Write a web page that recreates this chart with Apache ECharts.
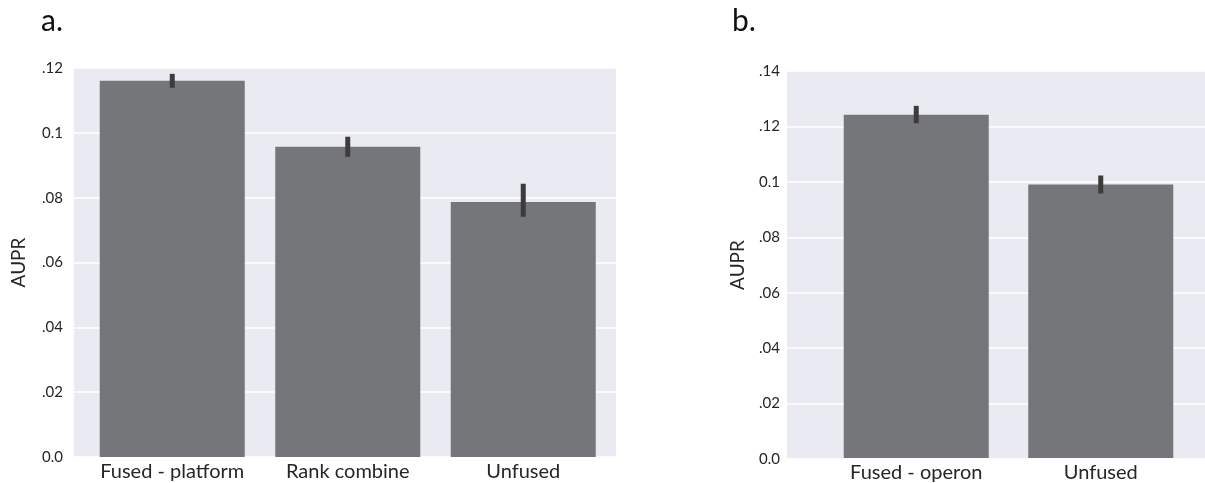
<!DOCTYPE html>
<html>
<head>
<meta charset="utf-8">
<script src="https://cdn.jsdelivr.net/npm/echarts@6/dist/echarts.min.js"></script>
<style>
html,body{margin:0;padding:0;background:#fff;}
#c{width:1205px;height:483px;}
</style>
</head>
<body>
<div id="c"></div>
<script>
// Panel a
const catsA = ['Fused - platform', 'Rank combine', 'Unfused'];
const valsA = [0.1161, 0.0957, 0.0787];
const errLowA = [0.1139, 0.0926, 0.0741];
const errHighA = [0.1182, 0.0988, 0.0843];
const ticksA = ['0.0', '.02', '.04', '.06', '.08', '0.1', '.12'];

// Panel b
const catsB = ['Fused - operon', 'Unfused'];
const valsB = [0.1242, 0.0989];
const errLowB = [0.1211, 0.0957];
const errHighB = [0.1274, 0.1022];
const ticksB = ['0.0', '.02', '.04', '.06', '.08', '0.1', '.12', '.14'];

const FONT = 'Lato';
const TXT = '#262626';
const BAR = '#75767a';
const ERR = '#3c3c3c';
const BG = '#eaeaf2';

const chart = echarts.init(document.getElementById('c'), null, {renderer: 'canvas'});

function errSeries(xi, yi, lows, highs) {
  return {
    type: 'custom',
    xAxisIndex: xi, yAxisIndex: yi,
    z: 5,
    data: lows.map((l, i) => [i, l, highs[i]]),
    renderItem: function (params, api) {
      const p1 = api.coord([api.value(0), api.value(1)]);
      const p2 = api.coord([api.value(0), api.value(2)]);
      return {
        type: 'line',
        shape: {x1: p1[0], y1: p1[1], x2: p2[0], y2: p2[1]},
        style: {stroke: ERR, lineWidth: 5}
      };
    }
  };
}

function bgY(gi, max, ticks, gap) {
  return {
    type: 'value', gridIndex: gi, min: 0, max: max, interval: 0.02,
    name: 'AUPR', nameLocation: 'middle', nameRotate: 90, nameGap: gap,
    nameTextStyle: {fontFamily: FONT, fontSize: 19, color: TXT},
    axisLine: {show: false}, axisTick: {show: false},
    axisLabel: {fontFamily: FONT, fontSize: 15, color: TXT, margin: gi === 0 ? 11 : 7,
      formatter: v => ticks[Math.round(v / 0.02)]},
    splitLine: {show: true, lineStyle: {color: '#ffffff', width: 1.5}}
  };
}
function hiddenY(gi, max) {
  return {type: 'value', gridIndex: gi, min: 0, max: max, interval: 0.02, show: false,
    splitLine: {show: false}};
}
function catX(gi, cats) {
  return {
    type: 'category', gridIndex: gi, data: cats,
    axisLine: {show: false}, axisTick: {show: false},
    axisLabel: {fontFamily: FONT, fontSize: 20, color: TXT, margin: 5, interval: 0, hideOverlap: false},
    splitLine: {show: false}
  };
}

chart.setOption({
  animation: false,
  title: [
    {text: 'a.', left: 36, top: 1, textStyle: {fontFamily: FONT, fontSize: 30, fontWeight: 'normal', color: '#111'}},
    {text: 'b.', left: 727, top: 1, textStyle: {fontFamily: FONT, fontSize: 30, fontWeight: 'normal', color: '#111'}}
  ],
  grid: [
    {left: 74, top: 68, width: 542, height: 389, show: true, backgroundColor: BG, borderWidth: 0},
    {left: 84.5, top: 68, width: 526.5, height: 389, show: false},
    {left: 787, top: 71, width: 418, height: 388, show: true, backgroundColor: BG, borderWidth: 0},
    {left: 824, top: 71, width: 369, height: 388, show: false}
  ],
  xAxis: [
    {type: 'value', gridIndex: 0, show: false, min: 0, max: 1, splitLine: {show: false}},
    catX(1, catsA),
    {type: 'value', gridIndex: 2, show: false, min: 0, max: 1, splitLine: {show: false}},
    catX(3, catsB)
  ],
  yAxis: [
    bgY(0, 0.12, ticksA, 46),
    hiddenY(1, 0.12),
    bgY(2, 0.14, ticksB, 40),
    hiddenY(3, 0.14)
  ],
  series: [
    {type: 'bar', xAxisIndex: 1, yAxisIndex: 1, data: valsA, barWidth: 145,
      itemStyle: {color: BAR}, z: 3},
    errSeries(1, 1, errLowA, errHighA),
    {type: 'bar', xAxisIndex: 3, yAxisIndex: 3, data: valsB, barWidth: 145,
      itemStyle: {color: BAR}, z: 3},
    errSeries(3, 3, errLowB, errHighB)
  ]
});
</script>
</body>
</html>
